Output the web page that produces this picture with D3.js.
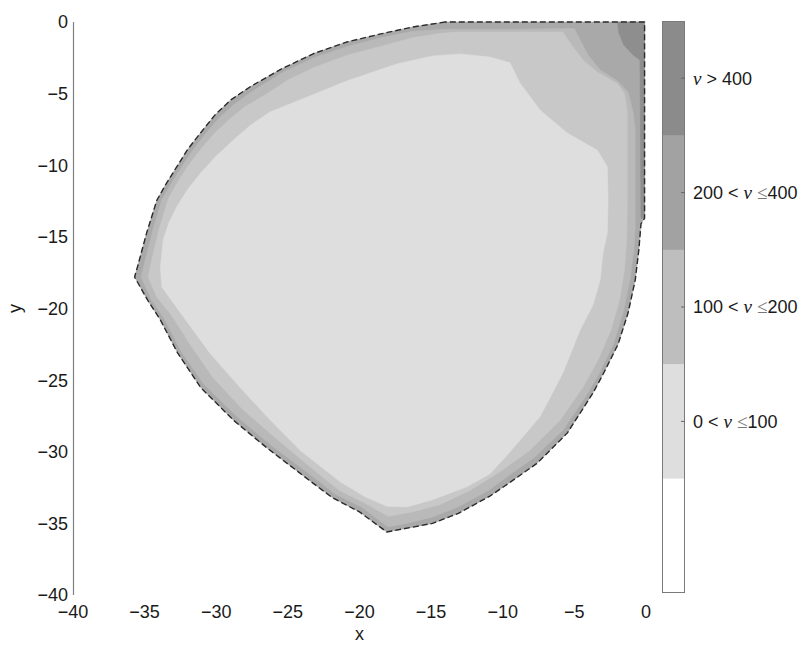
<!DOCTYPE html>
<html>
<head>
<meta charset="utf-8">
<script src="https://cdn.jsdelivr.net/npm/d3@7"></script>
<style>
  body { margin: 0; background: #fff; }
  text { font-family: "Liberation Sans", Arial, Helvetica, sans-serif; fill: #1a1a1a; }
</style>
</head>
<body>
<svg id="chart" width="809" height="645"></svg>
<script>
// Axis ticks
const xTicks = [-40, -35, -30, -25, -20, -15, -10, -5, 0];
const yTicks = [0, -5, -10, -15, -20, -25, -30, -35, -40];

// Outer edge of the admissible region (nu > 0), traced as [x, y]
const regionEdge = [
  [-14.0, 0], [-16.3, -0.35], [-18.6, -0.85], [-20.9, -1.4], [-23.2, -2.2], [-25.5, -3.3],
  [-27.6, -4.5], [-29.0, -5.45], [-30.1, -6.5], [-31.1, -7.75], [-32.0, -8.9], [-32.75, -10.1],
  [-33.5, -11.3], [-34.15, -12.45], [-34.85, -14.7], [-35.5, -17.1], [-35.7, -17.8],
  [-34.8, -19.4], [-33.9, -20.8], [-32.7, -23.1], [-31.1, -25.5],
  [-28.8, -27.8], [-26.5, -29.7], [-23.5, -32.0], [-21.9, -33.2], [-20.0, -34.2], [-18.1, -35.6],
  [-16.5, -35.3], [-14.9, -35.0], [-13.1, -34.3], [-10.9, -33.1], [-9.3, -32.0], [-7.6, -30.8],
  [-5.5, -28.7], [-3.7, -25.9], [-2.9, -24.4], [-1.95, -22.5], [-1.25, -20.3], [-0.75, -18.0],
  [-0.5, -15.9], [-0.35, -14.1], [-0.1, -13.7], [-0.1, 0]
];

// Upper contour of the 100 < nu <= 200 band
const contour200 = [
  [-13.9, -0.5], [-8.8, -0.5], [-5.0, -0.45], [-4.6, -1.26], [-4.05, -2.3], [-3.2, -3.35],
  [-2.0, -4.1], [-1.26, -4.9], [-0.9, -6.3], [-0.75, -7.5], [-0.75, -9.6], [-0.75, -12.4],
  [-0.75, -14.2], [-0.84, -15.9], [-1.12, -18.0], [-1.6, -20.3], [-2.3, -22.55], [-3.2, -24.4],
  [-4.05, -25.9], [-5.8, -28.5], [-7.8, -30.4], [-9.5, -31.6], [-11.0, -32.7], [-13.2, -33.9],
  [-14.9, -34.55], [-16.5, -34.95], [-18.0, -35.25], [-19.8, -33.9], [-21.7, -32.95], [-23.3, -31.7],
  [-26.3, -29.45], [-28.6, -27.5], [-30.85, -25.3], [-32.45, -23.0], [-33.65, -20.7], [-34.55, -19.35],
  [-35.25, -17.8], [-35.05, -17.0], [-34.45, -14.6], [-33.8, -12.4], [-33.1, -11.2], [-32.35, -10.0],
  [-31.6, -8.9], [-30.75, -7.8], [-29.8, -6.7], [-28.75, -5.75], [-27.35, -4.75], [-25.4, -3.55],
  [-23.2, -2.5], [-20.8, -1.7], [-18.5, -1.1], [-16.3, -0.65]
];

// Intermediate contour inside the 100 < nu <= 200 band
const contour150 = [
  [-13.3, -0.7], [-8.8, -0.7], [-5.8, -0.7], [-5.2, -1.6], [-4.4, -2.65], [-3.4, -3.5],
  [-2.0, -4.3], [-1.5, -5.0], [-1.3, -6.3], [-1.3, -7.5], [-1.3, -12.4], [-1.35, -15.2],
  [-1.5, -17.3], [-1.85, -19.4], [-2.45, -21.5], [-3.35, -23.6], [-4.4, -25.5], [-6.0, -27.8],
  [-8.1, -29.9], [-10.2, -31.4], [-12.3, -32.7], [-14.4, -33.7], [-16.3, -34.2], [-18.0, -34.5],
  [-19.6, -33.6], [-21.4, -32.7], [-23.1, -31.35], [-25.9, -29.0], [-28.1, -27.1], [-30.2, -24.85],
  [-31.8, -22.55], [-33.1, -20.5], [-34.15, -19.2], [-34.75, -17.8], [-34.55, -16.8], [-34.0, -14.5],
  [-33.35, -12.35], [-32.65, -11.1], [-31.9, -9.95], [-31.05, -8.85], [-30.15, -7.8], [-29.15, -6.85],
  [-28.05, -5.95], [-26.6, -5.1], [-25.0, -4.05], [-23.1, -3.15], [-20.8, -2.3], [-18.5, -1.7],
  [-16.3, -1.1], [-14.4, -0.8]
];

// Contour nu = 100 enclosing the low-frequency core
const contour100 = [
  [-13.0, -2.23], [-14.9, -2.37], [-17.4, -2.93], [-20.9, -4.12], [-24.85, -5.72], [-26.25, -6.28],
  [-27.6, -7.2], [-28.8, -8.24], [-30.0, -9.35], [-31.1, -10.55], [-32.0, -11.7], [-32.75, -12.9],
  [-33.3, -14.0], [-33.7, -15.2], [-33.9, -17.1], [-33.8, -18.5],
  [-32.5, -20.3], [-30.45, -23.1], [-28.35, -25.5], [-26.45, -27.55], [-24.15, -29.9], [-21.35, -32.1],
  [-19.6, -33.15], [-18.1, -33.8], [-16.7, -33.85], [-14.9, -33.35], [-12.5, -32.45], [-10.9, -31.55],
  [-9.7, -30.25], [-7.4, -27.55], [-5.8, -24.5], [-4.6, -21.5], [-3.7, -19.75], [-3.2, -18.0],
  [-3.0, -16.1], [-2.7, -14.7], [-2.65, -12.45], [-2.7, -10.1], [-3.4, -8.95], [-5.5, -7.75],
  [-7.4, -6.15], [-8.8, -4.25], [-9.5, -2.85], [-10.9, -2.45]
];

// Contour nu = 400 in the upper-right corner
const contour400 = [
  [-2.0, 0], [-1.9, -0.75], [-1.55, -1.6], [-0.9, -2.3], [-0.42, -2.65], [-0.4, -5.5],
  [-0.35, -13.7], [-0.1, -13.7], [-0.1, 0]
];

// Colour bar classes, top to bottom
const legendColors = ["#8b8b8b", "#a2a2a2", "#bebebe", "#dedede", "#ffffff"];
const legendLabels = [
  [{ t: "\u03bd", nu: true }, { t: " > 400" }],
  [{ t: "200 < " }, { t: "\u03bd", nu: true }, { t: " " }, { t: "\u2264", le: true }, { t: "400" }],
  [{ t: "100 < " }, { t: "\u03bd", nu: true }, { t: " " }, { t: "\u2264", le: true }, { t: "200" }],
  [{ t: "0 < " }, { t: "\u03bd", nu: true }, { t: " " }, { t: "\u2264", le: true }, { t: "100" }],
  null
];

const svg = d3.select("#chart");

const x = d3.scaleLinear().domain([-40, 0]).range([73, 646]);
const y = d3.scaleLinear().domain([0, -40]).range([22, 595]);

const line = d3.line().x(d => x(d[0])).y(d => y(d[1]));
const closed = pts => line(pts) + "Z";

// Filled bands, drawn from the outer edge inwards
const bands = [
  { ring: regionEdge, fill: "#a9a9a9" },
  { ring: contour400, fill: "#8e8e8e" },
  { ring: contour200, fill: "#b9b9b9" },
  { ring: contour150, fill: "#c8c8c8" },
  { ring: contour100, fill: "#dedede" }
];

const plot = svg.append("g");
plot.selectAll("path.band")
  .data(bands)
  .join("path")
  .attr("class", "band")
  .attr("d", d => closed(d.ring))
  .attr("fill", d => d.fill)
  .attr("stroke", d => d.fill)
  .attr("stroke-width", 0.6)
  .attr("stroke-linejoin", "round");

// Dashed outline of the region
plot.append("path")
  .attr("d", closed(regionEdge))
  .attr("fill", "none")
  .attr("stroke", "#2b2b2b")
  .attr("stroke-width", 1.4)
  .attr("stroke-linejoin", "round")
  .attr("stroke-dasharray", "6,3");

// Y axis line
svg.append("line")
  .attr("x1", 73.5).attr("x2", 73.5)
  .attr("y1", y(0)).attr("y2", y(-40))
  .attr("stroke", "#808080").attr("stroke-width", 1.2);

const fmt = v => (v < 0 ? "\u2212" + Math.abs(v) : String(v));

svg.append("g").selectAll("text")
  .data(yTicks)
  .join("text")
  .attr("x", 68)
  .attr("y", d => y(d))
  .attr("dy", "0.36em")
  .attr("text-anchor", "end")
  .attr("font-size", 18)
  .text(fmt);

svg.append("g").selectAll("text")
  .data(xTicks)
  .join("text")
  .attr("x", d => x(d))
  .attr("y", 618)
  .attr("text-anchor", "middle")
  .attr("font-size", 18)
  .text(fmt);

svg.append("text")
  .attr("x", x(-20)).attr("y", 640)
  .attr("text-anchor", "middle")
  .attr("font-size", 18)
  .text("x");

svg.append("text")
  .attr("transform", `translate(21,${y(-20)}) rotate(-90)`)
  .attr("text-anchor", "middle")
  .attr("font-size", 18)
  .text("y");

// Colour bar
const cb = d3.scaleBand().domain(d3.range(legendColors.length)).range([21, 593]);
const cbar = svg.append("g");
cbar.selectAll("rect")
  .data(legendColors)
  .join("rect")
  .attr("x", 662).attr("width", 23)
  .attr("y", (d, i) => cb(i)).attr("height", cb.bandwidth() + 0.5)
  .attr("fill", d => d);
cbar.append("rect")
  .attr("x", 662.5).attr("y", 21.5)
  .attr("width", 22).attr("height", 571)
  .attr("fill", "none").attr("stroke", "#7a7a7a").attr("stroke-width", 1);

const labelled = legendLabels.map((l, i) => ({ l, i })).filter(d => d.l);
cbar.selectAll("line.tick")
  .data(labelled)
  .join("line")
  .attr("class", "tick")
  .attr("x1", 681).attr("x2", 685)
  .attr("y1", d => cb(d.i) + cb.bandwidth() / 2)
  .attr("y2", d => cb(d.i) + cb.bandwidth() / 2)
  .attr("stroke", "#666");

const lbl = cbar.selectAll("text.lbl")
  .data(labelled)
  .join("text")
  .attr("class", "lbl")
  .attr("x", 693)
  .attr("y", d => cb(d.i) + cb.bandwidth() / 2)
  .attr("dy", "0.36em")
  .attr("font-size", 18);

lbl.selectAll("tspan")
  .data(d => d.l)
  .join("tspan")
  .attr("font-family", p => (p.nu || p.le) ? "'Liberation Serif', 'DejaVu Serif', serif" : null)
  .attr("font-style", p => p.nu ? "italic" : null)
  .attr("font-size", p => (p.nu || p.le) ? 19 : null)
  .style("fill", p => p.le ? "#777" : null)
  .text(p => p.t);
</script>
</body>
</html>
